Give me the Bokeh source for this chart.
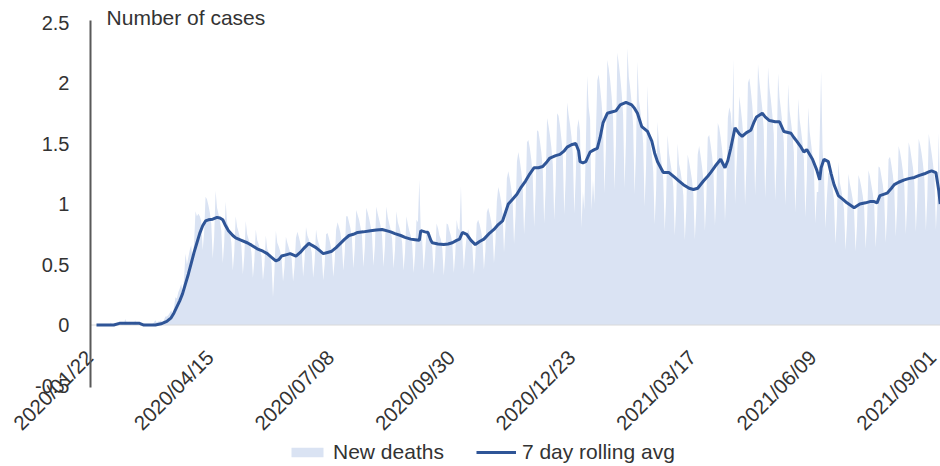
import numpy as np
import pandas as pd
from math import pi
from bokeh.plotting import figure
from bokeh.models import FixedTicker, Legend, LegendItem, Label, Range1d
from bokeh.embed import file_html
from bokeh.resources import INLINE

# ---------------- data ----------------
start_date = "2020-01-22"
tick_labels = ["2020/01/22", "2020/04/15", "2020/07/08", "2020/09/30",
               "2020/12/23", "2021/03/17", "2021/06/09", "2021/09/01"]
y_ticks = [-0.5, 0.0, 0.5, 1.0, 1.5, 2.0, 2.5]
y_tick_labels = ["-0.5", "0", "0.5", "1", "1.5", "2", "2.5"]

# daily new deaths, one row per week (Wed..Tue), starting 2020/01/22
new_deaths = [
    0, 0, 0, 0, 0, 0, 0,
    0, 0, 0, 0.02, 0, 0, 0.01,
    0, 0.03, 0, 0, 0.02, 0, 0.05,
    0.02, 0, 0.03, 0, 0, 0.01, 0.04,
    0, 0, 0, 0, 0, 0, 0,
    0, 0, 0, 0, 0.01, 0.02, 0.04,
    0.02, 0.03, 0.03, 0.04, 0.02, 0.04, 0.07,
    0.07, 0.08, 0.10, 0.12, 0.10, 0.14, 0.23,
    0.22, 0.27, 0.30, 0.34, 0.28, 0.38, 0.59,
    0.50, 0.56, 0.62, 0.66, 0.52, 0.68, 0.94,
    0.90, 0.92, 0.90, 0.86, 0.62, 0.76, 1.06,
    1.04, 0.99, 0.93, 0.84, 0.55, 0.73, 1.11,
    0.97, 0.92, 0.86, 0.78, 0.51, 0.68, 1.02,
    0.85, 0.81, 0.76, 0.68, 0.45, 0.60, 0.90,
    0.81, 0.77, 0.72, 0.65, 0.42, 0.57, 0.86,
    0.75, 0.71, 0.67, 0.60, 0.39, 0.53, 0.79,
    0.70, 0.67, 0.62, 0.57, 0.37, 0.49, 0.74,
    0.63, 0.60, 0.56, 0.51, 0.23, 0.44, 0.78,
    0.68, 0.65, 0.61, 0.55, 0.36, 0.48, 0.73,
    0.68, 0.64, 0.60, 0.55, 0.36, 0.48, 0.72,
    0.77, 0.73, 0.68, 0.62, 0.40, 0.54, 0.81,
    0.74, 0.71, 0.66, 0.60, 0.39, 0.52, 0.79,
    0.71, 0.67, 0.63, 0.57, 0.37, 0.50, 0.75,
    0.76, 0.72, 0.67, 0.61, 0.40, 0.53, 0.79,
    0.85, 0.81, 0.76, 0.68, 0.45, 0.60, 0.90,
    0.90, 0.85, 0.80, 0.72, 0.47, 0.63, 0.95,
    0.91, 0.87, 0.81, 0.74, 0.48, 0.64, 0.97,
    0.93, 0.88, 0.82, 0.75, 0.49, 0.65, 0.98,
    0.92, 0.87, 0.82, 0.74, 0.48, 0.65, 0.98,
    0.89, 0.84, 0.79, 0.71, 0.47, 0.62, 0.94,
    0.85, 0.81, 0.76, 0.68, 0.45, 0.60, 0.90,
    0.83, 0.78, 0.74, 0.67, 0.43, 0.58, 0.87,
    0.85, 1.20, 0.78, 0.70, 0.45, 0.60, 0.77,
    0.79, 0.75, 0.70, 0.64, 0.42, 0.56, 0.84,
    0.80, 0.74, 0.71, 0.63, 0.41, 0.56, 0.84,
    0.83, 0.78, 0.74, 0.67, 0.43, 0.58, 0.87,
    0.80, 0.78, 1.15, 0.70, 0.46, 0.62, 0.74,
    0.79, 0.75, 0.70, 0.64, 0.42, 0.56, 0.84,
    0.87, 0.83, 0.78, 0.70, 0.46, 0.61, 0.93,
    0.97, 0.92, 0.86, 0.78, 0.51, 0.68, 1.02,
    1.14, 1.09, 1.02, 0.92, 0.60, 0.81, 1.21,
    1.27, 1.21, 1.13, 1.03, 0.67, 0.90, 1.35,
    1.43, 1.36, 1.27, 1.15, 0.75, 1.00, 1.51,
    1.53, 1.46, 1.37, 1.24, 0.81, 1.08, 1.61,
    1.60, 1.52, 1.43, 1.29, 0.84, 1.13, 1.71,
    1.65, 1.57, 1.47, 1.33, 0.87, 1.16, 1.75,
    1.73, 1.65, 1.54, 1.40, 0.91, 1.22, 1.84,
    1.74, 1.66, 1.56, 1.41, 0.92, 1.23, 1.63,
    1.70, 1.60, 0.80, 1.10, 0.95, 1.45, 2.06,
    1.80, 1.70, 0.95, 1.20, 1.00, 1.55, 2.02,
    2.07, 1.96, 1.84, 1.66, 1.09, 1.45, 2.19,
    2.12, 2.02, 1.89, 1.71, 1.12, 1.49, 2.25,
    2.16, 2.05, 1.92, 1.74, 1.13, 1.52, 2.29,
    2.05, 1.95, 1.83, 1.65, 1.08, 1.44, 2.18,
    1.86, 1.77, 1.66, 1.50, 0.98, 1.31, 1.98,
    1.58, 1.50, 1.41, 1.27, 0.83, 1.11, 1.68,
    1.49, 1.41, 1.32, 1.20, 0.78, 1.05, 1.57,
    1.42, 1.34, 1.26, 1.14, 0.74, 1.00, 1.50,
    1.33, 1.27, 1.19, 1.07, 0.70, 0.94, 1.41,
    1.35, 1.28, 1.20, 1.08, 0.71, 0.95, 1.41,
    1.48, 1.40, 1.31, 1.19, 0.78, 1.04, 1.55,
    1.57, 1.49, 1.40, 1.26, 0.82, 1.10, 1.67,
    1.63, 1.55, 1.45, 1.31, 0.86, 1.15, 1.71,
    1.80, 1.75, 1.60, 2.20, 1.00, 1.30, 1.55,
    1.89, 1.79, 1.68, 1.52, 0.99, 1.33, 2.00,
    2.04, 1.94, 1.82, 1.64, 1.07, 1.44, 2.16,
    2.01, 1.90, 1.79, 1.62, 1.05, 1.41, 2.13,
    1.96, 1.86, 1.74, 1.58, 1.03, 1.38, 2.08,
    1.88, 1.78, 1.67, 1.51, 0.99, 1.32, 1.99,
    1.77, 1.68, 1.58, 1.43, 0.93, 1.25, 1.87,
    1.70, 1.61, 1.51, 1.37, 0.89, 1.20, 1.80,
    1.60, 1.50, 1.40, 1.28, 0.84, 1.10, 1.10,
    1.55, 2.10, 1.45, 1.25, 0.80, 1.05, 1.25,
    1.27, 1.21, 1.13, 1.03, 0.67, 0.90, 1.35,
    1.18, 1.12, 1.05, 0.95, 0.62, 0.83, 1.25,
    1.17, 1.11, 1.04, 0.94, 0.61, 0.82, 1.24,
    1.20, 1.14, 1.07, 0.97, 0.63, 0.85, 1.28,
    1.23, 1.16, 1.09, 0.99, 0.64, 0.86, 1.31,
    1.30, 1.23, 1.16, 1.05, 0.68, 0.91, 1.37,
    1.39, 1.32, 1.24, 1.12, 0.73, 0.98, 1.48,
    1.43, 1.36, 1.27, 1.15, 0.75, 1.00, 1.51,
    1.46, 1.38, 1.30, 1.17, 0.77, 1.03, 1.54,
    1.49, 1.42, 1.33, 1.20, 0.78, 1.05, 1.58,
    1.50, 1.42, 1.33, 1.21, 0.79, 1.05, 1.59,
    0.95,
]

# 7 day rolling average (day offset from start, value)
avg_days = [0, 12, 16, 30, 33, 41, 45, 49, 52, 54, 56, 58, 60, 62, 64, 66, 68, 70, 72, 74,
            76, 78, 81, 84, 86, 88, 90, 92, 95, 97, 101, 105, 108, 112, 116, 119, 122, 125, 127, 129,
            132, 135, 139, 142, 145, 148, 150, 153, 156, 158, 161, 164, 167, 170, 173, 176, 179, 182, 186, 191,
            195, 199, 202, 205, 208, 212, 215, 219, 222, 225, 226, 229, 231, 233, 234, 238, 242, 245, 248, 251,
            253, 255, 258, 261, 264, 267, 270, 274, 277, 280, 283, 285, 287, 290, 293, 296, 299, 302, 305, 308,
            311, 314, 316, 320, 323, 326, 328, 331, 334, 336, 337, 339, 341, 344, 347, 349, 351, 353, 356, 359,
            362, 365, 369, 373, 375, 377, 380, 384, 387, 389, 391, 395, 399, 403, 406, 409, 413, 416, 419, 423,
            426, 428, 431, 435, 438, 440, 442, 445, 448, 450, 453, 456, 458, 460, 464, 466, 469, 473, 476, 479,
            484, 486, 488, 491, 493, 495, 499, 502, 504, 505, 507, 510, 512, 514, 517, 520, 523, 528, 532, 536,
            539, 542, 544, 546, 551, 554, 556, 559, 563, 566, 570, 573, 577, 580, 582, 585, 587, 588]
avg_values = [0.0, 0.0, 0.014, 0.014, 0.0, 0.0, 0.01, 0.03, 0.06, 0.10, 0.15, 0.20, 0.26, 0.34, 0.42, 0.51, 0.60, 0.68, 0.76, 0.82,
              0.86, 0.87, 0.875, 0.89, 0.885, 0.87, 0.82, 0.78, 0.74, 0.72, 0.70, 0.68, 0.66, 0.63, 0.61, 0.59, 0.56, 0.53, 0.54, 0.57,
              0.58, 0.59, 0.57, 0.60, 0.64, 0.675, 0.66, 0.64, 0.61, 0.59, 0.60, 0.61, 0.64, 0.675, 0.71, 0.74, 0.75, 0.765, 0.77, 0.78,
              0.785, 0.79, 0.78, 0.77, 0.755, 0.74, 0.725, 0.71, 0.705, 0.70, 0.78, 0.77, 0.765, 0.70, 0.68, 0.67, 0.665, 0.67, 0.68, 0.70,
              0.71, 0.765, 0.75, 0.70, 0.665, 0.69, 0.71, 0.76, 0.79, 0.83, 0.86, 0.93, 1.00, 1.04, 1.08, 1.14, 1.19, 1.25, 1.30, 1.30,
              1.31, 1.35, 1.38, 1.40, 1.41, 1.44, 1.47, 1.49, 1.50, 1.44, 1.35, 1.34, 1.35, 1.43, 1.45, 1.46, 1.55, 1.67, 1.75, 1.76,
              1.77, 1.82, 1.84, 1.82, 1.79, 1.75, 1.64, 1.60, 1.52, 1.42, 1.35, 1.26, 1.26, 1.22, 1.19, 1.16, 1.13, 1.12, 1.13, 1.19,
              1.23, 1.26, 1.31, 1.37, 1.30, 1.36, 1.46, 1.63, 1.58, 1.56, 1.59, 1.61, 1.67, 1.72, 1.75, 1.72, 1.69, 1.68, 1.68, 1.60,
              1.585, 1.55, 1.52, 1.47, 1.43, 1.45, 1.37, 1.28, 1.20, 1.30, 1.37, 1.35, 1.25, 1.16, 1.07, 1.04, 1.01, 0.97, 1.00, 1.01,
              1.02, 1.02, 1.01, 1.07, 1.09, 1.13, 1.16, 1.18, 1.20, 1.21, 1.22, 1.235, 1.25, 1.265, 1.275, 1.26, 1.11, 1.0]

# ---------------- chart ----------------
start = pd.Timestamp(start_date)
days = np.arange(len(new_deaths))
tick_days = [int((pd.Timestamp(t.replace("/", "-")) - start).days) for t in tick_labels]

FONT = "Liberation Sans"
TXT = "#333333"

# layout (data-space positions of the axes / frame edges)
X_RANGE = (-66.9, 588.2)
Y_RANGE = (-1.169, 2.682)
Y_AXIS_AT = -4.2          # day position where the value axis is drawn
X_AXIS_AT = -0.22         # value position where the date labels hang from
LABEL_SHIFT = 5           # date labels sit slightly left of their day, as in the original

p = figure(width=940, height=466, output_backend="svg", toolbar_location=None,
           x_range=X_RANGE, y_range=Y_RANGE, min_border=0,
           min_border_left=0, min_border_right=0, min_border_top=0, min_border_bottom=0)
p.extra_x_ranges = {"date_labels": Range1d(X_RANGE[0] + LABEL_SHIFT, X_RANGE[1] + LABEL_SHIFT)}
p.outline_line_color = None
p.background_fill_color = "white"
p.border_fill_color = "white"
p.xgrid.visible = False
p.ygrid.visible = False

area = p.varea(x=days, y1=0, y2=new_deaths, fill_color="#dae3f3")
# horizontal zero line from the value axis to the end of the date range
p.segment(x0=Y_AXIS_AT, y0=0, x1=X_RANGE[1], y1=0, line_color="#d9d9d9", line_width=1)
line = p.line(avg_days, avg_values, line_color="#2f5597", line_width=3)

ya = p.yaxis[0]
ya.fixed_location = Y_AXIS_AT
ya.bounds = (-0.52, 2.52)
ya.ticker = FixedTicker(ticks=y_ticks)
ya.major_label_overrides = {float(t): l for t, l in zip(y_ticks, y_tick_labels)}
ya.axis_line_color = "#595959"
ya.axis_line_width = 2
ya.major_tick_line_color = None
ya.minor_tick_line_color = None
ya.major_tick_out = 0
ya.major_tick_in = 0
ya.major_label_standoff = 21
ya.major_label_text_font = FONT
ya.major_label_text_font_size = "20px"
ya.major_label_text_color = TXT

xa = p.xaxis[0]
xa.x_range_name = "date_labels"
xa.fixed_location = X_AXIS_AT
xa.ticker = FixedTicker(ticks=tick_days)
xa.major_label_overrides = {d: l for d, l in zip(tick_days, tick_labels)}
xa.major_label_orientation = pi / 4
xa.axis_line_color = None
xa.major_tick_line_color = None
xa.minor_tick_line_color = None
xa.major_tick_out = 0
xa.major_tick_in = 0
xa.major_label_standoff = 2
xa.major_label_text_font = FONT
xa.major_label_text_font_size = "20.5px"
xa.major_label_text_color = TXT

p.add_layout(Label(x=7, y=2.545, text="Number of cases", text_font=FONT,
                   text_font_size="21px", text_color=TXT, text_baseline="middle"))

legend = Legend(items=[LegendItem(label="New deaths", renderers=[area]),
                       LegendItem(label="7 day rolling avg", renderers=[line])],
                orientation="horizontal", location=(287, 2),
                glyph_width=40, glyph_height=12, label_standoff=6, spacing=32,
                padding=0, margin=0, border_line_color=None, background_fill_alpha=0,
                label_text_font=FONT, label_text_font_size="21px", label_text_color=TXT)
p.add_layout(legend)

open("out.html", "w").write(file_html(p, INLINE))
